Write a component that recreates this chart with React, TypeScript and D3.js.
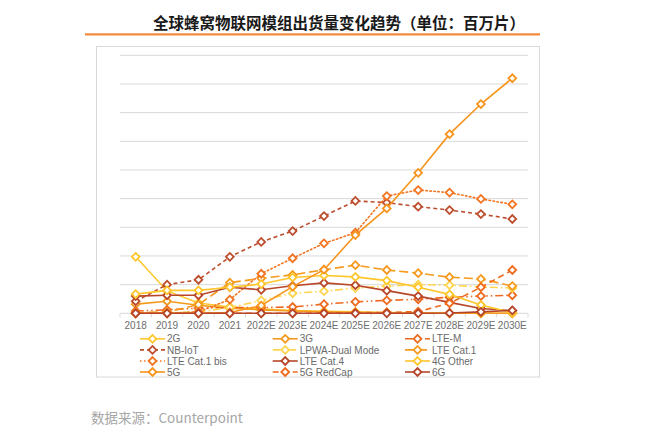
import React from 'react';
import * as d3 from 'd3';

const years = ['2018', '2019', '2020', '2021', '2022E', '2023E', '2024E', '2025E', '2026E', '2027E', '2028E', '2029E', '2030E'];

const s2G = [197, 78, 36, 22, 15, 10, 7, 5, 3, 2, 1, 0, 0];
const s3G = [32, 42, 28, 18, 12, 8, 5, 3, 2, 1, 0, 0, 0];
const sLTEM = [8, 12, 18, 20, 20, 22, 32, 40, 45, 49, 56, 60, 63];
const sNBIoT = [42, 100, 117, 197, 249, 287, 339, 392, 386, 372, 360, 346, 329];
const sLPWA = [0, 2, 5, 20, 45, 70, 77, 88, 95, 100, 98, 92, 88];
const sCat1 = [2, 5, 30, 107, 122, 134, 152, 168, 151, 140, 126, 120, 95];
const sCat1bis = [0, 0, 5, 48, 138, 192, 244, 281, 409, 430, 421, 399, 380];
const sCat4 = [60, 63, 63, 91, 82, 96, 106, 98, 79, 60, 38, 17, 9];
const s4GOther = [67, 80, 80, 91, 102, 125, 132, 127, 114, 91, 66, 29, 2];
const s5G = [0, 0, 0, 3, 27, 93, 152, 273, 366, 490, 625, 730, 820];
const sRedCap = [0, 0, 0, 0, 0, 0, 1, 2, 3, 6, 35, 91, 151];
const s6G = [0, 0, 0, 0, 0, 0, 0, 0, 0, 0, 1, 5, 10];

const yTicks = [0, 100, 200, 300, 400, 500, 600, 700, 800, 900];

const seriesNames = ['2G', '3G', 'LTE-M', 'NB-IoT', 'LPWA-Dual Mode', 'LTE Cat.1', 'LTE Cat.1 bis', 'LTE Cat.4', '4G Other', '5G', '5G RedCap', '6G'];
const seriesValues = [s2G, s3G, sLTEM, sNBIoT, sLPWA, sCat1, sCat1bis, sCat4, s4GOther, s5G, sRedCap, s6G];
const seriesColors = ['#FFC62E', '#F39A1E', '#EE6A1F', '#BC4E2E', '#FFD54F', '#F59A1D', '#F37421', '#B8472A', '#FFC72C', '#F7941D', '#F06A1E', '#B5452A'];
const seriesDash = ['', '', '8,3,1.5,3,1.5,3', '4,3', '8,3,1.5,3', '9,4', '1.5,2.5', '', '', '', '6,4', ''];

export default function App() {
  const W = 645, H = 434;
  const x = d3.scaleBand<string>().domain(years).range([120, 528]);
  const y = d3.scaleLinear().domain([0, 900]).range([313.3, 55.3]);
  const line = d3.line<number>().x((_, i) => (x(years[i]) as number) + x.bandwidth() / 2).y(d => y(d));
  const marker = d3.symbol().type(d3.symbolSquare).size(30)() as string;
  const legendCols = [140, 272.7, 405];
  const legendRows = [338.8, 349.9, 361, 372];
  const font = "'Liberation Sans', Arial, sans-serif";

  return (
    <svg width={W} height={H} style={{ position: 'fixed', left: 0, top: 0, background: '#fff' }}>
      <rect x={0} y={0} width={W} height={H} fill="#fff" />
      <text x={339} y={28.5} textAnchor="middle" fontSize={15.5} fontWeight="bold" fill="#1a1a1a"
        fontFamily="'Noto Sans CJK SC', sans-serif">全球蜂窝物联网模组出货量变化趋势（单位：百万片）</text>
      <line x1={85} x2={540} y1={34.3} y2={34.3} stroke="#F28C3C" strokeWidth={2.2} />
      <rect x={96.5} y={46.5} width={443} height={330.5} fill="none" stroke="#D9D9D9" strokeWidth={1} />
      {yTicks.filter(t => t > 0).map(t => (
        <line key={t} x1={120} x2={528} y1={y(t)} y2={y(t)} stroke="#D9D9D9" strokeWidth={1} />
      ))}
      <line x1={120} x2={528} y1={y(0)} y2={y(0)} stroke="#D9D9D9" strokeWidth={1} />
      {years.map((yr, i) => (
        <line key={'t' + yr} x1={x(yr) as number} x2={x(yr) as number} y1={y(0)} y2={y(0) + 4} stroke="#D9D9D9" />
      ))}
      <line x1={528} x2={528} y1={y(0)} y2={y(0) + 4} stroke="#D9D9D9" />
      {years.map(yr => (
        <text key={'l' + yr} x={(x(yr) as number) + x.bandwidth() / 2} y={328.5} textAnchor="middle" fontSize={10}
          fill="#6E6E6E" fontFamily={font}>{yr}</text>
      ))}
      {seriesValues.map((vals, si) => (
        <g key={'s' + si}>
          <path d={line(vals) as string} fill="none" stroke={seriesColors[si]} strokeWidth={1.6}
            strokeDasharray={seriesDash[si] || undefined} strokeLinecap={seriesDash[si] === '1.5,2.5' ? 'round' : 'butt'} />
          {vals.map((v, i) => (
            <path key={i} d={marker}
              transform={`translate(${(x(years[i]) as number) + x.bandwidth() / 2},${y(v)}) rotate(45)`}
              fill="#fff" stroke={seriesColors[si]} strokeWidth={1.8} />
          ))}
        </g>
      ))}
      {seriesNames.map((name, si) => {
        const lx = legendCols[si % 3];
        const ly = legendRows[Math.floor(si / 3)];
        return (
          <g key={'lg' + si}>
            <line x1={lx} x2={lx + 25} y1={ly} y2={ly} stroke={seriesColors[si]} strokeWidth={1.6}
              strokeDasharray={seriesDash[si] || undefined} />
            <path d={marker} transform={`translate(${lx + 12.5},${ly}) rotate(45)`} fill="#fff" stroke={seriesColors[si]} strokeWidth={1.8} />
            <text x={lx + 27} y={ly + 3.6} fontSize={10} fill="#6A6A6A" fontFamily={font}>{name}</text>
          </g>
        );
      })}
      <text x={91} y={423} fontSize={13.5} fill="#A6A6A6" fontFamily="'Noto Sans CJK SC', 'Noto Sans', sans-serif">数据来源：Counterpoint</text>
    </svg>
  );
}
